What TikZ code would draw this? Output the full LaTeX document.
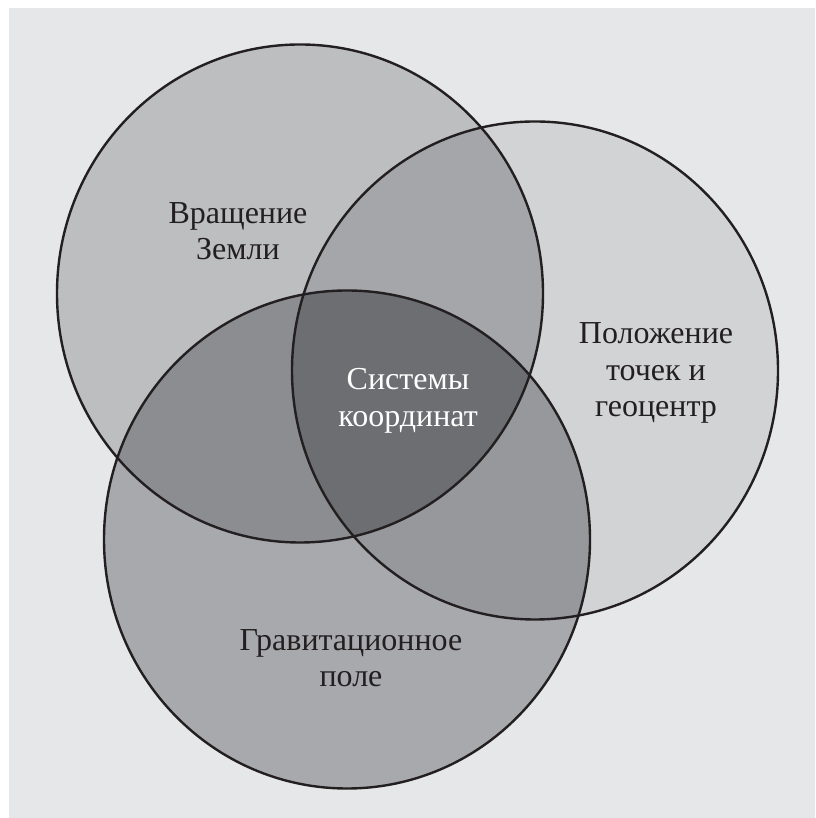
\documentclass[tikz,border=0pt]{standalone}
\usepackage{fontspec}
\setmainfont{Liberation Serif}
\definecolor{bgc}{HTML}{E6E7E8}
\definecolor{cA}{HTML}{BCBEC0}
\definecolor{cB}{HTML}{D1D3D4}
\definecolor{cC}{HTML}{A7A9AC}
\definecolor{cAB}{HTML}{A4A6A9}
\definecolor{cAC}{HTML}{8B8D90}
\definecolor{cBC}{HTML}{96989B}
\definecolor{cABC}{HTML}{6D6E71}
\definecolor{txt}{HTML}{231F20}
\begin{document}
\begin{tikzpicture}[x=1pt,y=1pt,
  lbl/.style={align=center,font=\fontsize{32}{36.5}\selectfont,text=txt,inner sep=0pt},
  ring/.style={draw=txt,line width=2.4pt}]
\useasboundingbox (0,0) rectangle (815,818);
\fill[white] (0,0) rectangle (815,818);
\fill[bgc] (9,0) rectangle (815,810);
\def\cA{(300,524.5) ellipse [x radius=243, y radius=249]}
\def\cB{(535,447.5) ellipse [x radius=243, y radius=249]}
\def\cC{(347,278.5) ellipse [x radius=243, y radius=249]}
\fill[cB] \cB;
\fill[cA] \cA;
\fill[cC] \cC;
\begin{scope}
  \clip \cA;
  \fill[cAB] \cB;
  \fill[cAC] \cC;
\end{scope}
\begin{scope}
  \clip \cB;
  \begin{scope}
    \clip \cC;
    \fill[cBC] (0,0) rectangle (815,818);
  \end{scope}
\end{scope}
\begin{scope}
  \clip \cA; \clip \cB; \fill[cABC] \cC;
\end{scope}
\draw[ring] \cA;
\draw[ring] \cB;
\draw[ring] \cC;
\node[lbl] (rot) at (238,587) {Вращение\\Земли};
\node[lbl] (pos) at (656,445) {Положение\\точек и\\геоцентр};
\node[lbl,text=white] (sys) at (408,417) {Системы\\координат};
\node[lbl] (grav) at (351,160) {Гравитационное\\поле};
\end{tikzpicture}
\end{document}
